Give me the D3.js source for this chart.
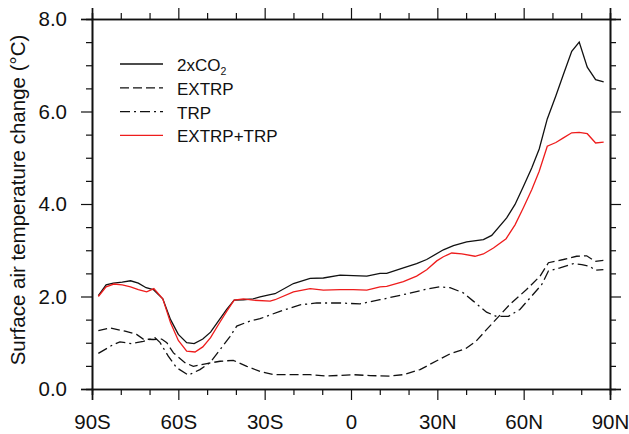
<!DOCTYPE html>
<html>
<head>
<meta charset="utf-8">
<script src="https://cdn.jsdelivr.net/npm/d3@7"></script>
<style>
  body { margin: 0; background: #fff; }
  svg { display: block; font-family: "Liberation Sans", Arial, sans-serif; }
</style>
</head>
<body>
<div id="chart"></div>
<script>
// Zonal-mean surface air temperature change
const co2Lat = [-87.8, -85.1, -82.6, -79.5, -76.6, -73.9, -71.2, -68.7, -65.4, -62.7, -60.0, -57.1, -54.5, -51.5, -48.8, -46.1, -43.2, -40.6, -37.4, -34.0, -31.6, -28.1, -26.4, -20.0, -14.2, -9.6, -3.8, 0.8, 5.5, 10.1, 12.4, 18.2, 22.8, 26.3, 32.1, 35.6, 40.2, 46.0, 48.9, 54.1, 57.0, 59.9, 62.8, 65.4, 68.2, 71.2, 73.8, 76.7, 79.3, 82.1, 85.0, 87.8];
const co2Val = [2.02, 2.25, 2.29, 2.31, 2.34, 2.29, 2.19, 2.15, 1.95, 1.50, 1.18, 1.00, 0.98, 1.08, 1.23, 1.47, 1.72, 1.92, 1.93, 1.95, 1.99, 2.04, 2.06, 2.28, 2.39, 2.40, 2.46, 2.45, 2.44, 2.50, 2.50, 2.62, 2.71, 2.80, 3.01, 3.10, 3.18, 3.23, 3.32, 3.70, 3.99, 4.38, 4.78, 5.19, 5.84, 6.34, 6.80, 7.30, 7.50, 6.96, 6.69, 6.64];

const extrpLat = [-87.8, -83.7, -78.5, -74.5, -72.2, -68.7, -65.8, -64.0, -61.7, -57.7, -54.8, -50.1, -45.5, -40.9, -36.2, -31.6, -27.0, -20.0, -14.2, -8.4, 0.8, 6.6, 13.5, 18.2, 24.0, 29.8, 34.4, 39.8, 43.4, 46.6, 51.2, 55.2, 61.0, 65.7, 68.6, 73.8, 78.4, 81.9, 84.8, 87.7];
const extrpVal = [1.26, 1.32, 1.25, 1.18, 1.08, 1.07, 1.08, 1.00, 0.78, 0.57, 0.49, 0.55, 0.60, 0.62, 0.49, 0.38, 0.31, 0.31, 0.31, 0.28, 0.31, 0.29, 0.28, 0.31, 0.42, 0.61, 0.76, 0.87, 1.03, 1.25, 1.56, 1.83, 2.15, 2.44, 2.73, 2.80, 2.87, 2.88, 2.76, 2.78];

const trpLat = [-87.8, -82.6, -80.3, -76.2, -72.2, -68.1, -66.4, -63.5, -60.6, -56.5, -52.5, -49.0, -45.5, -42.0, -39.7, -35.1, -31.6, -24.7, -17.7, -11.9, -3.8, 3.1, 10.1, 18.2, 26.3, 30.9, 34.4, 39.0, 42.5, 47.1, 50.6, 54.7, 58.7, 62.8, 66.3, 68.6, 72.6, 77.3, 80.2, 83.1, 84.8, 87.7];
const trpVal = [0.77, 0.96, 1.02, 0.98, 1.03, 1.11, 1.01, 0.71, 0.46, 0.30, 0.42, 0.57, 0.85, 1.14, 1.36, 1.47, 1.52, 1.68, 1.82, 1.86, 1.86, 1.84, 1.93, 2.04, 2.16, 2.21, 2.19, 2.08, 1.90, 1.66, 1.57, 1.57, 1.72, 2.01, 2.26, 2.55, 2.62, 2.71, 2.69, 2.65, 2.57, 2.58];

const sumLat = [-87.8, -85.1, -82.4, -79.5, -76.6, -73.9, -71.0, -68.5, -65.4, -62.7, -60.0, -57.1, -54.2, -51.5, -48.8, -46.1, -43.2, -40.6, -37.4, -34.0, -28.1, -26.4, -20.0, -14.2, -9.6, -3.8, 0.8, 5.5, 10.1, 12.4, 18.2, 22.8, 26.3, 29.8, 32.1, 35.0, 38.5, 43.1, 46.0, 49.5, 53.9, 57.0, 59.9, 62.8, 65.4, 68.2, 71.2, 73.8, 76.7, 79.3, 82.1, 85.0, 87.8];
const sumVal = [2.00, 2.21, 2.27, 2.25, 2.21, 2.15, 2.10, 2.17, 1.95, 1.43, 1.05, 0.82, 0.80, 0.91, 1.11, 1.39, 1.68, 1.92, 1.95, 1.92, 1.90, 1.93, 2.10, 2.17, 2.14, 2.15, 2.15, 2.14, 2.21, 2.22, 2.32, 2.44, 2.58, 2.77, 2.86, 2.94, 2.92, 2.87, 2.92, 3.05, 3.25, 3.55, 3.92, 4.31, 4.71, 5.25, 5.33, 5.43, 5.54, 5.55, 5.52, 5.32, 5.34];

const seriesNames = ['2xCO2', 'EXTRP', 'TRP', 'EXTRP+TRP'];
const xTicks = [-90, -60, -30, 0, 30, 60, 90];
const xTickLabels = ['90S', '60S', '30S', '0', '30N', '60N', '90N'];
const yTicks = [0, 2, 4, 6, 8];

const W = 629, H = 434;
const margin = { top: 19, right: 19, bottom: 45, left: 92 };
const width = W - margin.left - margin.right;
const height = H - margin.top - margin.bottom;

const svg = d3.select('#chart').append('svg')
    .attr('width', W)
    .attr('height', H);
const g = svg.append('g')
    .attr('transform', `translate(${margin.left}, ${margin.top})`);

const x = d3.scaleLinear().domain([-90, 90]).range([0, width]);
const y = d3.scaleLinear().domain([0, 8]).range([height, 0]);

// styles for each series
const series = [
    { name: seriesNames[0], lat: co2Lat, val: co2Val, color: '#111', dash: null },
    { name: seriesNames[1], lat: extrpLat, val: extrpVal, color: '#111', dash: '9,4' },
    { name: seriesNames[2], lat: trpLat, val: trpVal, color: '#111', dash: '10,4,2,4' },
    { name: seriesNames[3], lat: sumLat, val: sumVal, color: '#ee1c1c', dash: null }
];

const line = d3.line()
    .x(d => x(d[0]))
    .y(d => y(d[1]));

series.forEach(s => {
    g.append('path')
        .datum(s.lat.map((la, i) => [la, s.val[i]]))
        .attr('fill', 'none')
        .attr('stroke', s.color)
        .attr('stroke-width', 1.3)
        .attr('stroke-dasharray', s.dash)
        .attr('d', line);
});

// axes: all four sides, ticks outward
const minorX = d3.range(-80, 90, 10).filter(v => v % 30 !== 0);
const minorY = d3.range(0.5, 8, 0.5).filter(v => v % 2 !== 0);

function axisPair(axisFn, scale, major, minor, transform, withLabels) {
    const ga = g.append('g').attr('transform', transform);
    ga.call(axisFn(scale).tickValues(minor).tickSize(6).tickFormat(''));
    const gm = g.append('g').attr('transform', transform);
    const ax = axisFn(scale).tickValues(major).tickSize(11).tickPadding(14);
    if (withLabels) ax.tickFormat(withLabels); else ax.tickFormat('');
    gm.call(ax);
    [ga, gm].forEach(a => {
        a.selectAll('.domain').attr('stroke', '#111').attr('stroke-width', 1.6);
        a.selectAll('line').attr('stroke', '#111').attr('stroke-width', 1.2);
        a.selectAll('text').attr('font-size', 20.5).attr('fill', '#111')
            .attr('font-family', '"Liberation Sans", Arial, sans-serif');
    });
    return gm;
}

axisPair(d3.axisBottom, x, xTicks, minorX, `translate(0, ${height})`, (d, i) => xTickLabels[i]);
axisPair(d3.axisTop, x, xTicks, minorX, 'translate(0, 0)', null);
axisPair(d3.axisLeft, y, yTicks, minorY, 'translate(0, 0)', d => d3.format('.1f')(d));
axisPair(d3.axisRight, y, yTicks, minorY, `translate(${width}, 0)`, null);

// Y axis title
svg.append('text')
    .attr('transform', `translate(25, ${margin.top + height / 2 - 4}) rotate(-90)`)
    .attr('text-anchor', 'middle')
    .attr('font-size', 20.5)
    .attr('fill', '#111')
    .text('Surface air temperature change (°C)');

// legend
const legend = g.append('g').attr('transform', 'translate(28, 45)');
series.forEach((s, i) => {
    const row = legend.append('g').attr('transform', `translate(0, ${i * 23.8})`);
    row.append('line')
        .attr('x1', 0).attr('x2', 43)
        .attr('stroke', s.color)
        .attr('stroke-width', 1.3)
        .attr('stroke-dasharray', s.dash);
    const t = row.append('text')
        .attr('x', 57).attr('y', 7)
        .attr('font-size', 17)
        .attr('fill', '#111');
    if (s.name === '2xCO2') {
        t.append('tspan').text('2xCO');
        t.append('tspan').attr('font-size', 10.5).attr('dy', 4).text('2');
    } else {
        t.text(s.name);
    }
});
</script>
</body>
</html>
